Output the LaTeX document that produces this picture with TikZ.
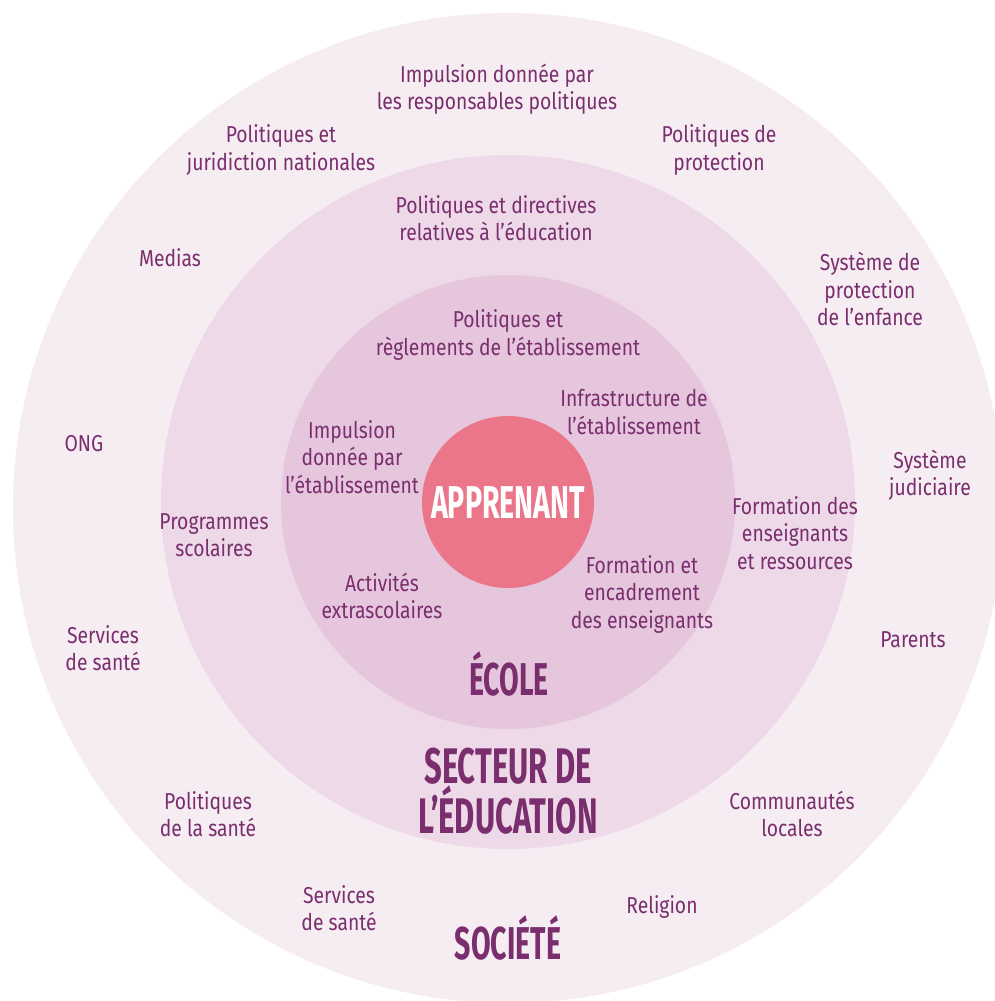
\documentclass[tikz,border=0pt]{standalone}
\usepackage{fontspec}
\setmainfont{Fira Sans}
\newfontfamily\bodyfont{Fira Sans}[FakeStretch=0.84]
\newfontfamily\headfont{Fira Sans}[FakeStretch=0.62]
\definecolor{txt}{HTML}{7A2E6E}
\definecolor{ringA}{HTML}{F6EDF3}
\definecolor{ringB}{HTML}{EDD9E8}
\definecolor{ringC}{HTML}{E5C6DD}
\definecolor{core}{HTML}{EB7689}
\tikzset{
  lbl/.style={align=center, text=txt, inner sep=0pt, font=\bodyfont\fontsize{23}{27.5}\selectfont},
  head/.style={align=center, text=txt, inner sep=0pt, font=\headfont\bfseries\fontsize{46}{46}\selectfont},
  ring/.style={circle, draw=none, inner sep=0pt}
}
\begin{document}
\begin{tikzpicture}[x=1pt,y=-1pt]
\useasboundingbox (0,0) rectangle (995,1001);
\clip (0,0) rectangle (995,1001);
\node[ring, fill=ringA, minimum size=990pt] (soc) at (508,508) {};
\node[ring, fill=ringB, minimum size=694pt] (sec) at (508,502) {};
\node[ring, fill=ringC, minimum size=454pt] (eco) at (508,502) {};
\node[ring, fill=core, minimum size=172pt] (app) at (508,502) {};
\node[head, text=white] (appl) at (508,503) {APPRENANT};

% Société
\node[lbl] (s1) at (497,89) {Impulsion donnée par\\les responsables politiques};
\node[lbl] (s2) at (281,150) {Politiques et\\juridiction nationales};
\node[lbl] (s3) at (719,150) {Politiques de\\protection};
\node[lbl] (s4) at (170,258) {Medias};
\node[lbl] (s5) at (870,289) {Système de\\protection\\de l’enfance};
\node[lbl] (s6) at (84,444) {ONG};
\node[lbl] (s7) at (930,475) {Système\\judiciaire};
\node[lbl] (s8) at (103,648) {Services\\de santé};
\node[lbl] (s9) at (913,640) {Parents};
\node[lbl] (s10) at (208,814) {Politiques\\de la santé};
\node[lbl] (s11) at (792,814) {Communautés\\locales};
\node[lbl] (s12) at (339,908) {Services\\de santé};
\node[lbl] (s13) at (662,907) {Religion};
\node[head] (soct) at (508,938) {SOCIÉTÉ};

% Secteur
\node[lbl] (e1) at (496,218) {Politiques et directives\\relatives à l’éducation};
\node[lbl] (e2) at (214,535) {Programmes\\scolaires};
\node[lbl] (e3) at (795,533) {Formation des\\enseignants\\et ressources};
\node[head, font=\headfont\bfseries\fontsize{50}{46}\selectfont] (sect) at (508,791) {SECTEUR DE\\L’ÉDUCATION};

% École
\node[lbl] (c1) at (508,335) {Politiques et\\règlements de l’établissement};
\node[lbl] (c2) at (634,412) {Infrastructure de\\l’établissement};
\node[lbl] (c3) at (352,457) {Impulsion\\donnée par\\l’établissement};
\node[lbl] (c4) at (382,596) {Activités\\extrascolaires};
\node[lbl] (c5) at (642,594) {Formation et\\encadrement\\des enseignants};
\node[head] (ecot) at (509,674) {ÉCOLE};
\end{tikzpicture}
\end{document}
